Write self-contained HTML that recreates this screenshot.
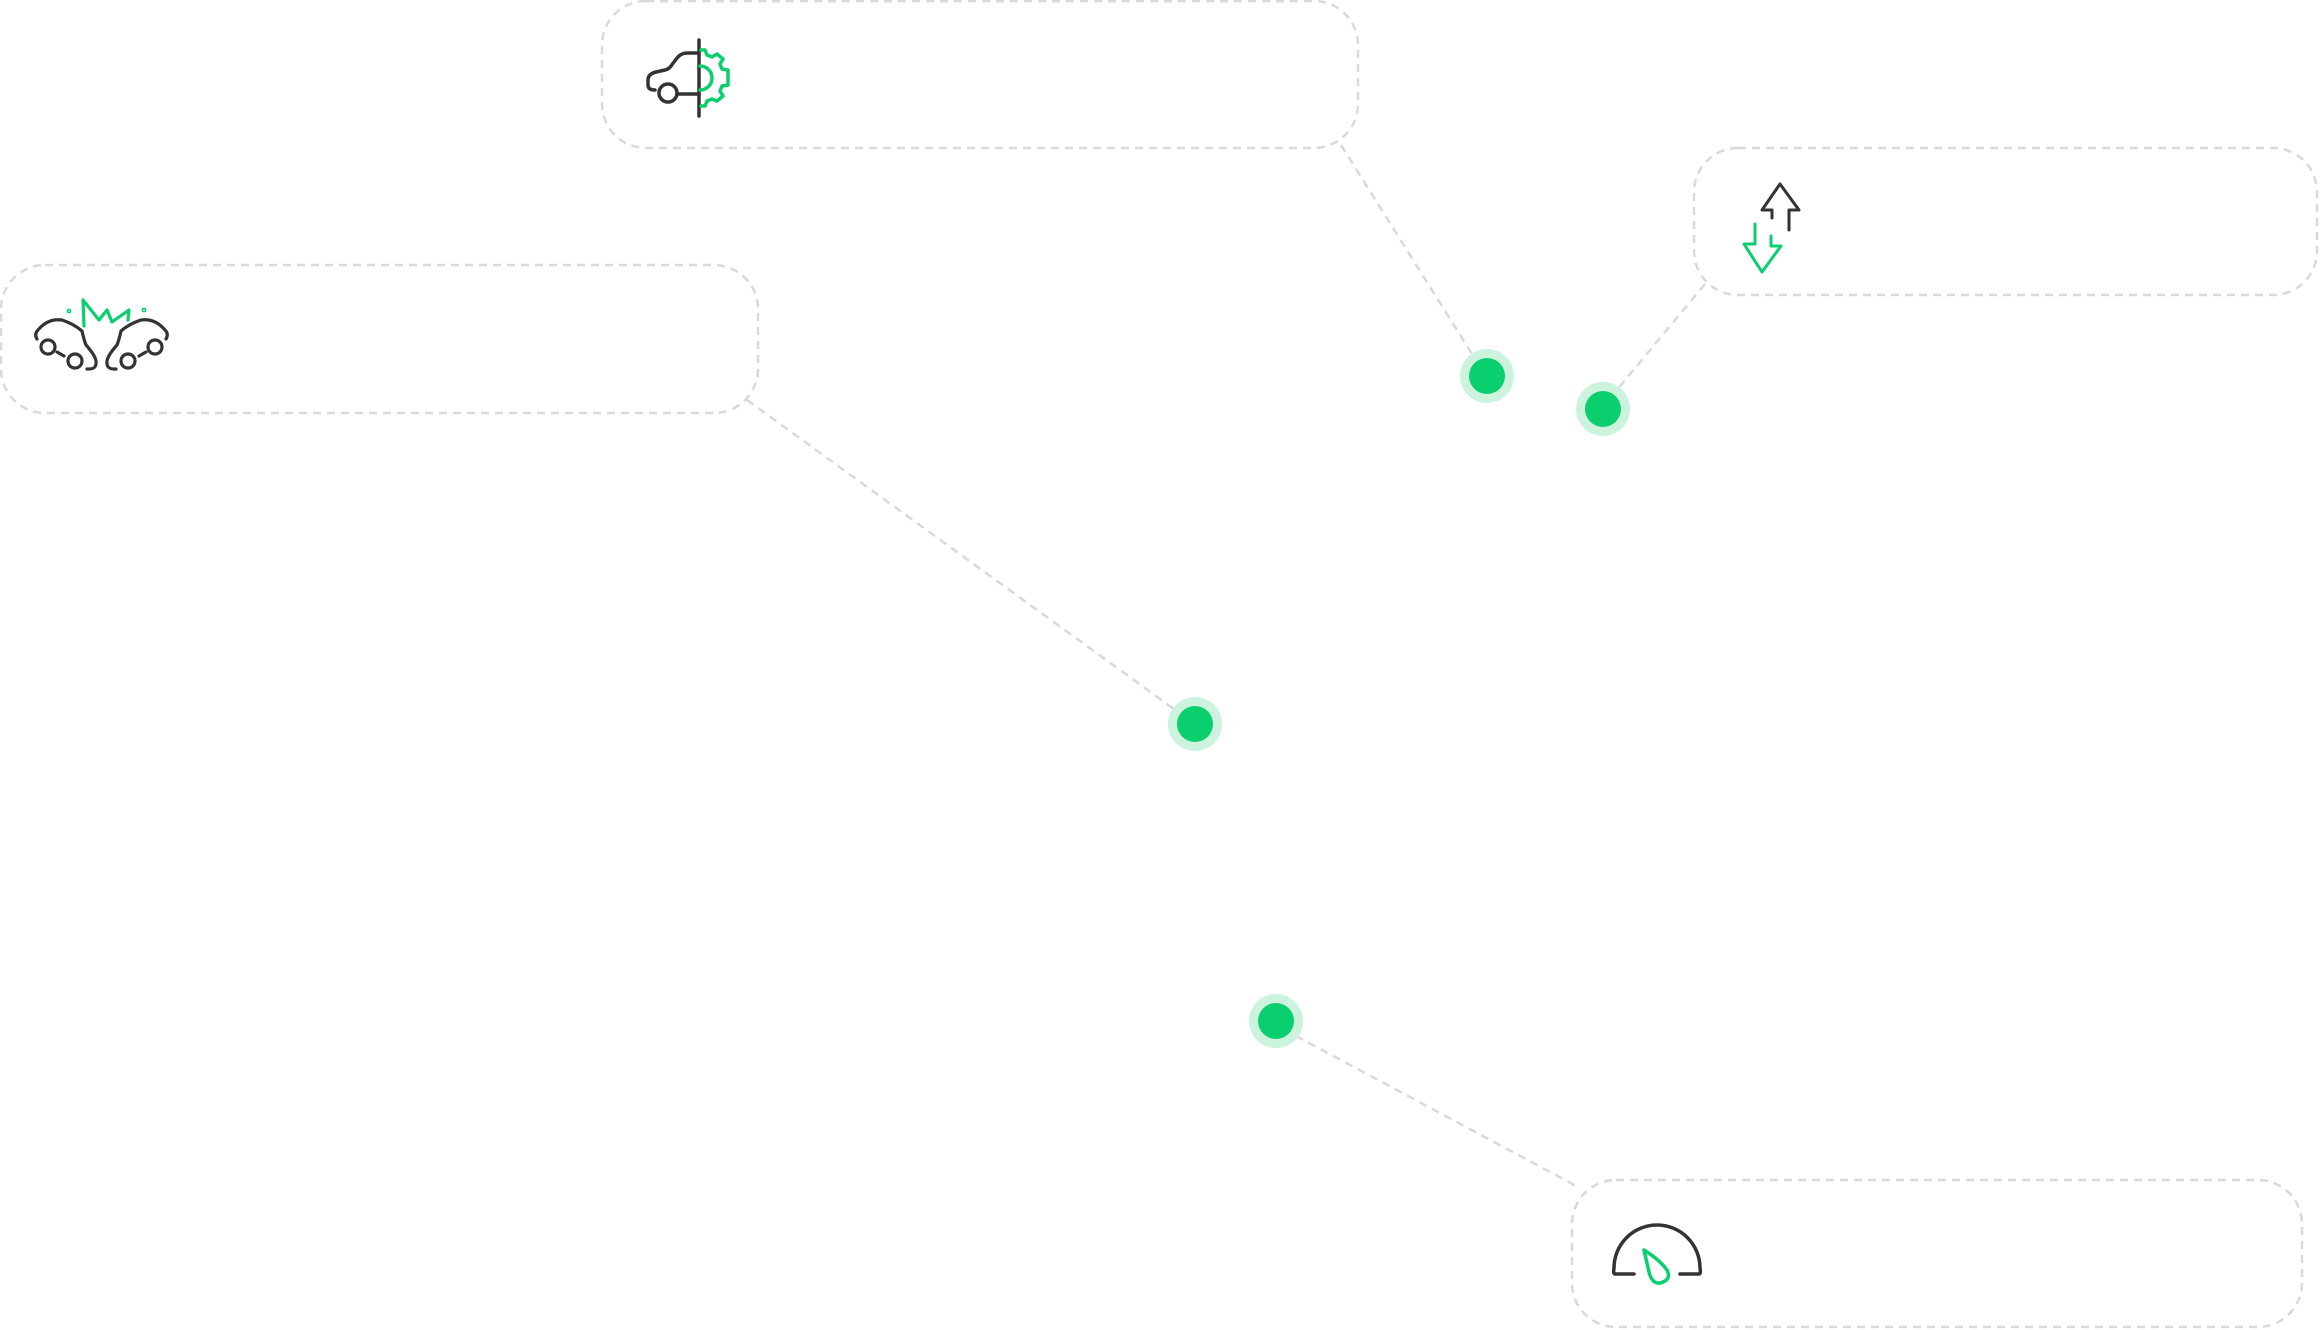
<!DOCTYPE html>
<html><head><meta charset="utf-8"><style>
html,body{margin:0;padding:0;background:#fff;}
svg{display:block;}
</style></head><body>
<svg width="2320" height="1330" viewBox="0 0 2320 1330" xmlns="http://www.w3.org/2000/svg">
<g fill="none" stroke="#d9d9d9" stroke-width="2.5" stroke-dasharray="8 6">
  <rect x="602" y="1" width="756" height="147" rx="44"/>
  <rect x="1694" y="148" width="623" height="147" rx="44"/>
  <rect x="1" y="265" width="757" height="148" rx="44"/>
  <rect x="1572" y="1180" width="730" height="147" rx="44"/>
  <line x1="1341" y1="145" x2="1472" y2="354"/>
  <line x1="1705" y1="284" x2="1616" y2="391"/>
  <line x1="747" y1="400" x2="1178" y2="712"/>
  <line x1="1296" y1="1036" x2="1580" y2="1188"/>
</g>
<g>
  <circle cx="1487" cy="376" r="27" fill="#CCF3DE"/><circle cx="1487" cy="376" r="18" fill="#0ACF6E"/>
  <circle cx="1603" cy="409" r="27" fill="#CCF3DE"/><circle cx="1603" cy="409" r="18" fill="#0ACF6E"/>
  <circle cx="1195" cy="724" r="27" fill="#CCF3DE"/><circle cx="1195" cy="724" r="18" fill="#0ACF6E"/>
  <circle cx="1276" cy="1021" r="27" fill="#CCF3DE"/><circle cx="1276" cy="1021" r="18" fill="#0ACF6E"/>
</g>
<!-- top icon -->
<g fill="none" stroke-width="3.5" stroke-linecap="round" stroke-linejoin="round">
  <g stroke="#333">
    <line x1="699" y1="40" x2="699" y2="116"/>
    <path d="M699 53 H687 Q681 53 677 58 L671 66 Q669 69 665 70 L656 72 Q648 74 648 80 V85 Q648 90 655 90"/>
    <circle cx="668" cy="93" r="9"/>
    <line x1="677" y1="94" x2="699" y2="94"/>
  </g>
  <g stroke="#0ACF6E">
    <path d="M700 66 A12 12 0 0 1 700 90"/>
    <path d="M701 50 L705 50 L707 55 L712 57 L717 54 L723 59 L720 64 L722 69 L728 70 L728 85 L722 86 L720 91 L723 96 L717 101 L712 99 L707 101 L705 106 L701 106"/>
  </g>
</g>
<!-- left icon -->
<g fill="none" stroke-width="3.2" stroke-linecap="round" stroke-linejoin="round">
  <g stroke="#333">
    <path d="M37 339 Q34 334 38 330 Q48 318 62 320 Q74 324 82 331 Q84 340 86 345 Q95 355 96 361 Q97 369 89 369 L87 369"/>
    <circle cx="48" cy="347" r="7"/>
    <line x1="57" y1="352" x2="64" y2="356"/>
    <circle cx="75" cy="361" r="7"/>
    <path d="M166 339 Q169 334 165 330 Q155 318 141 320 Q129 324 121 331 Q119 340 117 345 Q108 355 107 361 Q106 369 114 369 L116 369"/>
    <circle cx="155" cy="347" r="7"/>
    <line x1="146" y1="352" x2="139" y2="356"/>
    <circle cx="128" cy="361" r="7"/>
  </g>
  <g stroke="#0ACF6E">
    <path d="M84 326 L83 300 L99 320 L107 310 L112 322 L129 310 L128 320"/>
    <circle cx="69" cy="311" r="0.8"/>
    <circle cx="144" cy="310" r="0.8"/>
  </g>
</g>
<!-- right icon -->
<g fill="none" stroke-width="3" stroke-linecap="round" stroke-linejoin="round">
  <path stroke="#333" d="M1772 218 V210 H1762 L1780 184 L1799 210 H1789 V230"/>
  <path stroke="#0ACF6E" d="M1755 224 V244 H1744 L1762 272 L1781 246 H1771 V236"/>
</g>
<!-- bottom icon -->
<g fill="none" stroke-width="3.5" stroke-linecap="round" stroke-linejoin="round">
  <path stroke="#333" d="M1634 1274 H1615 Q1613 1274 1614 1268 A43 43 0 0 1 1700 1268 Q1701 1274 1699 1274 H1680"/>
  <path stroke="#0ACF6E" d="M1644 1250 Q1660 1260 1667 1270 Q1672 1280 1660 1283 Q1652 1284 1649 1272 Z"/>
</g>
</svg>
</body></html>
